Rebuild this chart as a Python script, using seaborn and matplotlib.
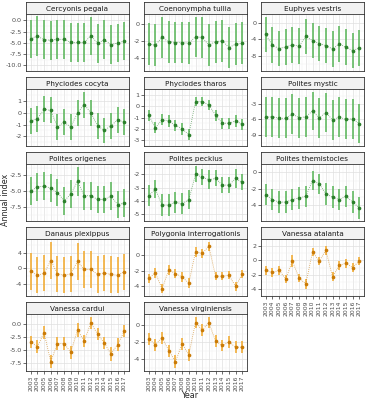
import numpy as np
import pandas as pd
import matplotlib
matplotlib.use("Agg")
import matplotlib.pyplot as plt
import seaborn as sns

sns.set_theme(style="white")
plt.rcParams['font.family'] = ['DejaVu Sans']
plt.rcParams['axes.unicode_minus'] = False

years = list(range(2003, 2018))

cercyonis_mean = [-4.1, -3.5, -4.3, -4.4, -4.2, -4.2, -4.9, -4.9, -4.9, -3.4, -5.1, -4.3, -5.4, -5.0, -4.6]
cercyonis_err = [4.3, 4.4, 4.3, 4.3, 4.3, 4.3, 4.3, 4.3, 4.3, 4.2, 4.3, 4.3, 4.3, 4.3, 4.3]
coenonympha_mean = [-2.4, -2.5, -1.6, -2.1, -2.2, -2.2, -2.3, -1.5, -1.6, -2.5, -2.1, -2.0, -2.8, -2.4, -2.3]
coenonympha_err = [2.5, 2.5, 2.5, 2.5, 2.5, 2.5, 2.5, 2.4, 2.4, 2.5, 2.5, 2.5, 2.5, 2.5, 2.5]
euphyes_mean = [-2.8, -5.4, -6.2, -5.8, -5.3, -5.6, -3.3, -4.3, -5.0, -5.5, -6.3, -5.1, -5.9, -6.7, -6.1]
euphyes_err = [4.3, 4.3, 4.3, 4.3, 4.3, 4.3, 4.3, 4.3, 4.3, 4.3, 4.3, 4.3, 4.3, 4.3, 4.3]
cocyta_mean = [-0.7, -0.5, 0.3, 0.2, -1.2, -0.8, -1.2, 0.0, 0.7, 0.0, -1.1, -1.5, -1.1, -0.6, -0.8]
cocyta_err = [1.1, 1.1, 1.1, 1.1, 1.1, 1.1, 1.1, 1.1, 1.1, 1.1, 1.1, 1.1, 1.1, 1.1, 1.1]
tharos_mean = [-0.8, -1.9, -1.2, -1.3, -1.7, -2.0, -2.5, 0.4, 0.4, 0.1, -0.8, -1.5, -1.5, -1.3, -1.6]
tharos_err = [0.5, 0.5, 0.5, 0.5, 0.5, 0.5, 0.5, 0.4, 0.4, 0.4, 0.5, 0.5, 0.5, 0.5, 0.5]
mystic_mean = [-5.6, -5.5, -5.8, -5.8, -5.0, -5.7, -5.5, -4.4, -5.7, -4.7, -6.1, -5.6, -6.0, -5.9, -6.8]
mystic_err = [3.8, 3.8, 3.8, 3.8, 3.8, 3.8, 3.8, 3.7, 3.8, 3.7, 3.8, 3.8, 3.8, 3.8, 3.8]
origenes_mean = [-5.0, -4.3, -4.2, -4.5, -5.2, -6.5, -5.5, -3.4, -5.7, -5.7, -6.3, -6.3, -5.8, -7.1, -6.9]
origenes_err = [2.2, 2.2, 2.2, 2.2, 2.2, 2.2, 2.2, 2.3, 2.2, 2.2, 2.2, 2.2, 2.2, 2.2, 2.2]
peckius_mean = [-3.6, -3.1, -4.3, -4.3, -4.1, -4.2, -3.9, -2.0, -2.2, -2.4, -2.3, -2.8, -2.8, -2.3, -2.6]
peckius_err = [0.8, 0.7, 0.8, 0.8, 0.8, 0.8, 0.7, 0.6, 0.6, 0.7, 0.6, 0.6, 0.6, 0.7, 0.6]
themistocles_mean = [-2.7, -3.3, -3.6, -3.6, -3.3, -3.1, -2.9, -1.0, -1.4, -2.6, -3.0, -3.3, -2.9, -3.6, -4.3]
themistocles_err = [1.3, 1.3, 1.3, 1.3, 1.3, 1.3, 1.3, 1.2, 1.2, 1.3, 1.3, 1.3, 1.3, 1.3, 1.3]
danaus_mean = [-0.8, -1.8, -1.3, 2.0, -1.4, -1.8, -1.4, 1.8, -0.3, -0.3, -1.6, -1.2, -1.6, -1.8, -0.9]
danaus_err = [4.7, 4.7, 4.7, 4.9, 4.7, 4.7, 4.7, 4.8, 4.7, 4.7, 4.7, 4.7, 4.7, 4.7, 4.7]
polygonia_mean = [-3.0, -2.3, -4.3, -1.9, -2.4, -2.8, -3.6, 0.4, 0.2, 1.1, -2.7, -2.7, -2.6, -4.0, -2.4]
polygonia_err = [0.6, 0.6, 0.6, 0.6, 0.6, 0.6, 0.6, 0.6, 0.6, 0.6, 0.5, 0.5, 0.5, 0.6, 0.5]
atalanta_mean = [-1.4, -1.7, -1.4, -2.6, -0.1, -2.5, -3.3, 1.2, -0.1, 1.4, -2.3, -0.7, -0.4, -1.0, -0.1]
atalanta_err = [0.6, 0.6, 0.6, 0.6, 0.8, 0.6, 0.7, 0.6, 0.6, 0.6, 0.6, 0.6, 0.6, 0.6, 0.6]
cardui_mean = [-3.5, -4.4, -1.7, -7.3, -3.8, -3.8, -5.5, -1.2, -3.3, 0.2, -2.0, -3.7, -5.8, -4.0, -1.4]
cardui_err = [1.2, 1.2, 1.2, 1.3, 1.2, 1.2, 1.2, 1.3, 1.2, 1.2, 1.2, 1.2, 1.3, 1.2, 1.2]
virginiensis_mean = [-1.6, -2.3, -1.5, -3.0, -4.3, -2.2, -3.5, 0.3, -0.6, 0.3, -1.9, -2.4, -2.0, -2.6, -2.6]
virginiensis_err = [0.7, 0.7, 0.7, 0.7, 0.8, 0.7, 0.7, 0.7, 0.7, 0.7, 0.7, 0.7, 0.7, 0.7, 0.7]

species = ["Cercyonis pegala", "Coenonympha tullia", "Euphyes vestris",
           "Phyciodes cocyta", "Phyciodes tharos", "Polites mystic",
           "Polites origenes", "Polites peckius", "Polites themistocles",
           "Danaus plexippus", "Polygonia interrogationis", "Vanessa atalanta",
           "Vanessa cardui", "Vanessa virginiensis"]
migrant = [False] * 9 + [True] * 5
means = [cercyonis_mean, coenonympha_mean, euphyes_mean, cocyta_mean, tharos_mean,
         mystic_mean, origenes_mean, peckius_mean, themistocles_mean, danaus_mean,
         polygonia_mean, atalanta_mean, cardui_mean, virginiensis_mean]
errs = [cercyonis_err, coenonympha_err, euphyes_err, cocyta_err, tharos_err,
        mystic_err, origenes_err, peckius_err, themistocles_err, danaus_err,
        polygonia_err, atalanta_err, cardui_err, virginiensis_err]
yticks = [[0, -2.5, -5, -7.5, -10], [0, -2, -4], [0, -4, -8],
          [1, 0, -1, -2], [1, 0, -1, -2, -3], [-3, -6, -9],
          [-2.5, -5.0, -7.5], [-2, -3, -4, -5], [0, -2, -4],
          [4, 0, -4], [0, -2, -4], [2, 0, -2, -4],
          [0, -2.5, -5.0, -7.5], [0, -2, -4]]

W, H = 369, 400
fig = plt.figure(figsize=(W / 100, H / 100), dpi=100)
col_left = [26, 144, 261]
pw = 103
strip_h = 12
ph = 57
row_top = [2, 77, 152, 227, 302]

green_bar, green_pt = "#5fb85f", "#2a7f2a"
orange_bar, orange_pt = "#f2ac33", "#c97a06"

def fmt(v, step):
    if abs(step - round(step)) > 1e-9:
        return f"{v:.1f}"
    return f"{int(round(v))}"

for i, sp in enumerate(species):
    r, c = divmod(i, 3)
    left = col_left[c]
    top = row_top[r]
    sax = fig.add_axes([left / W, 1 - (top + strip_h) / H, pw / W, strip_h / H])
    sax.set_facecolor("#f2f2f2")
    sax.set_xticks([]); sax.set_yticks([])
    for s in sax.spines.values():
        s.set_color("#333333"); s.set_linewidth(0.6)
    sax.text(0.5, 0.45, sp, ha="center", va="center", fontsize=5.2, color="#1a1a1a",
             transform=sax.transAxes)
    ax = fig.add_axes([left / W, 1 - (top + strip_h + ph) / H, pw / W, ph / H])
    df = pd.DataFrame({"year": years, "mean": means[i], "err": errs[i]})
    df["lo"] = df["mean"] - df["err"]
    df["hi"] = df["mean"] + df["err"]
    bc, pc = (orange_bar, orange_pt) if migrant[i] else (green_bar, green_pt)
    ax.vlines(df["year"], df["lo"], df["hi"], color=bc, lw=1.3, alpha=0.9, zorder=2)
    sns.lineplot(data=df, x="year", y="mean", ax=ax, color=pc, lw=0.6,
                 linestyle=(0, (1, 1.5)), alpha=0.7, zorder=3)
    sns.scatterplot(data=df, x="year", y="mean", ax=ax, color=pc, s=7,
                    linewidth=0, zorder=4)
    ax.set_xlim(2002.3, 2017.7)
    lo_all = df["lo"].min(); hi_all = df["hi"].max()
    pad = (hi_all - lo_all) * 0.05
    ax.set_ylim(lo_all - pad, hi_all + pad)
    yt = yticks[i]
    step = abs(yt[0] - yt[1])
    ax.set_yticks(yt)
    ax.set_yticklabels([fmt(v, step) for v in yt])
    ax.set_yticks([v - step / 2 for v in yt] + [yt[0] + step / 2], minor=True)
    ax.set_xticks(years)
    ax.set_xticks([y + 0.5 for y in years[:-1]], minor=True)
    ax.grid(True, which="major", color="#e0e0e0", lw=0.5)
    ax.grid(True, which="minor", color="#f0f0f0", lw=0.35)
    ax.set_axisbelow(True)
    ax.set_facecolor("white")
    for s in ax.spines.values():
        s.set_color("#333333"); s.set_linewidth(0.6)
    ax.tick_params(axis="y", which="major", labelsize=4.6, labelcolor="#4d4d4d",
                   length=2, width=0.5, color="#333333", pad=1, left=True)
    ax.tick_params(axis="both", which="minor", length=0)
    show_x = (r == 4) or (r == 3 and c == 2)
    if show_x:
        ax.tick_params(axis="x", which="major", labelsize=4.4, labelcolor="#4d4d4d",
                       length=2, width=0.5, color="#333333", pad=1, bottom=True,
                       labelrotation=90)
    else:
        ax.tick_params(axis="x", which="major", length=0, labelbottom=False)
    ax.set_xlabel("")
    ax.set_ylabel("")

fig.text(190 / W, 1 - 395 / H, "Year", ha="center", va="center", fontsize=5.8)
fig.text(6 / W, 0.5, "Annual index", ha="center", va="center", rotation=90, fontsize=5.8)

fig.savefig("out.png", dpi=100)
